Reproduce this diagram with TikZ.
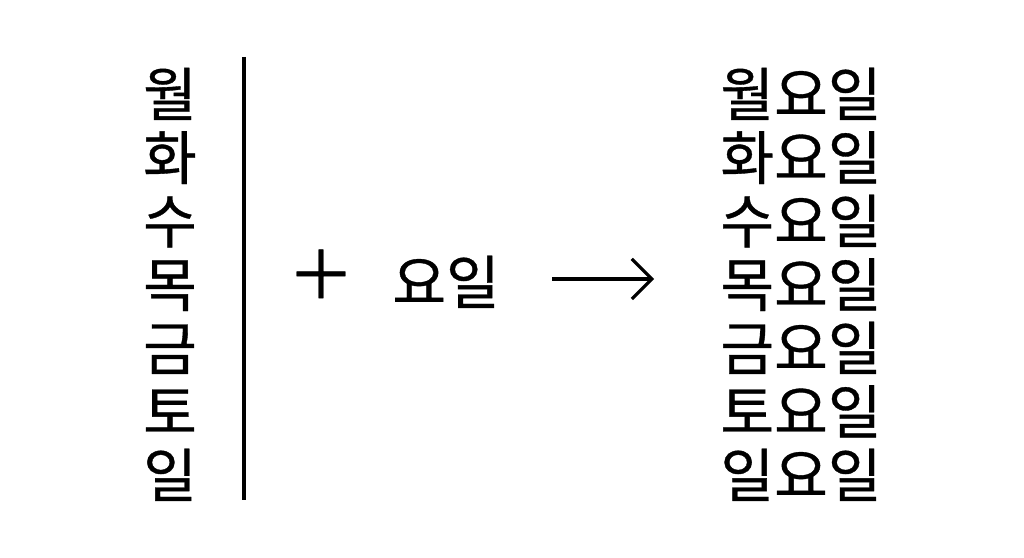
\documentclass[tikz,border=0pt]{standalone}
\usepackage{fontspec}
\setmainfont{Noto Sans CJK KR}[FakeBold=0.6]
\usetikzlibrary{arrows.meta}

\tikzset{
  day/.style={anchor=base, inner sep=0pt, font=\fontsize{16.6pt}{20pt}\selectfont},
}

\begin{document}
\begin{tikzpicture}[x=0.01cm, y=-0.01cm]
        \useasboundingbox[fill=white] (0,0) rectangle (1024,558);
        % left column
        \node[day] (l1) at (170,116) {월};
        \node[day] (l2) at (170,179.5) {화};
        \node[day] (l3) at (170,243) {수};
        \node[day] (l4) at (170,306.5) {목};
        \node[day] (l5) at (170,370) {금};
        \node[day] (l6) at (170,433.5) {토};
        \node[day] (l7) at (170,497) {일};
        \coordinate (top) at (244,57);
        \coordinate (bot) at (244,500);
        \draw[line width=0.9pt] (top) -- (bot);
        % middle
        \node[day, font=\fontsize{19pt}{20pt}\selectfont] (plus) at (321,299) {＋};
        \node[day] (yoil) at (446,304) {요일};
        \coordinate (arrowA) at (552,279);
        \coordinate (arrowB) at (654,279);
        \draw[line width=0.9pt, -{Straight Barb[length=0.2cm, width=0.4cm]}] (arrowA) -- (arrowB);
        % right column
        \node[day] (r1) at (801,116) {월요일};
        \node[day] (r2) at (801,179.5) {화요일};
        \node[day] (r3) at (801,243) {수요일};
        \node[day] (r4) at (801,306.5) {목요일};
        \node[day] (r5) at (801,370) {금요일};
        \node[day] (r6) at (801,433.5) {토요일};
        \node[day] (r7) at (801,497) {일요일};
    \end{tikzpicture}
\end{document}
